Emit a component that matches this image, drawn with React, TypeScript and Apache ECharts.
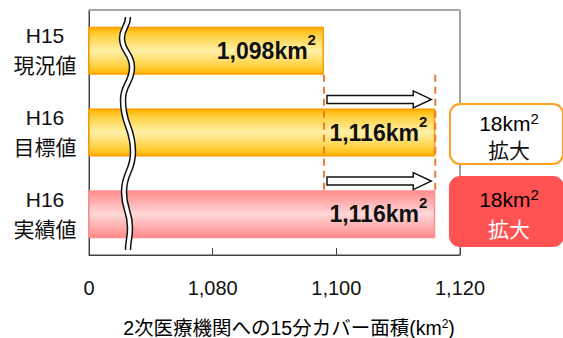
import React, { useEffect, useRef } from "react";
import * as echarts from "echarts";

const years = ["H15", "H16", "H16"];
const kinds = ["現況値", "目標値", "実績値"];
const areaValues = [1098, 1116, 1116];
const xTicks = [1060, 1080, 1100, 1120];
const xTickLabels = ["0", "1,080", "1,100", "1,120"];
const guideValues = [1098, 1116];
const arrowFrom = [1098, 1098];
const arrowTo = [1116, 1116];
const arrowRows = [1, 2];
const boxTexts = ["18km", "18km"];
const boxSub = ["拡大", "拡大"];
const axisTitle = "2次医療機関への15分カバー面積";

const FONT = "'Liberation Sans', 'Noto Sans CJK JP', sans-serif";

const WAVE_D =
  "M128 17 C128 27 122 28 122 38 C122 52 132 53 132 67 C132 83 123 84 123 100 " +
  "C123 126 133 126 133 152 C133 172 124 172 124 192 C124 210 130 210 130 228 C130 239 128 240 128 250";

let registered = false;
function ensureShapes() {
  if (registered) return;
  echarts.graphic.registerShape("wave", echarts.graphic.extendPath(WAVE_D, {}) as any);
  registered = true;
}

const orangeGrad = new echarts.graphic.LinearGradient(0, 0, 0, 1, [
  { offset: 0, color: "#ffb000" },
  { offset: 0.15, color: "#ffcf3a" },
  { offset: 0.5, color: "#fff0a8" },
  { offset: 0.85, color: "#ffcf3a" },
  { offset: 1, color: "#ffb000" },
]);
const redGrad = new echarts.graphic.LinearGradient(0, 0, 0, 1, [
  { offset: 0, color: "#ff8a8a" },
  { offset: 0.5, color: "#ffd8d8" },
  { offset: 1, color: "#ff8a8a" },
]);

export default function App() {
  const ref = useRef<HTMLDivElement>(null);
  useEffect(() => {
    ensureShapes();
    const chart = echarts.init(ref.current!, null, { renderer: "svg" });
    const cats = years.map((y, i) => `${y}\n${kinds[i]}`);
    const barColors = [orangeGrad, orangeGrad, redGrad];
    const barBorders = ["#ff9a00", "#ff9a00", "#ff9090"];
    const fmt = (v: number) => v.toLocaleString("en-US");

    const supRich = (color: string, size: number, supSize: number, lh: number, bold: boolean, extra: any = {}) => ({
      a: { fontSize: size, lineHeight: lh, fontWeight: bold ? "bold" : "normal", color, fontFamily: FONT, ...extra },
      b: { fontSize: supSize, fontWeight: bold ? "bold" : "normal", color, fontFamily: FONT, verticalAlign: "top", ...extra },
    });

    const boxes: any[] = [];
    const boxGeo = [
      { y: 104, h: 60, fill: "#ffffff", stroke: "#ffa020", color: "#111", shadow: false, l1: 123, l2: 150 },
      { y: 177, h: 69, fill: "#ff5252", stroke: "#ff5252", color: "#ffffff", shadow: true, l1: 199, l2: 229 },
    ];
    boxGeo.forEach((g, i) => {
      boxes.push({
        type: "rect",
        z: 200,
        shape: { x: 450, y: g.y, width: 113, height: g.h, r: 10 },
        style: { fill: g.fill, stroke: g.stroke, lineWidth: 2 },
      });
      const shadowStyle = g.shadow
        ? { textShadowColor: "rgba(0,0,0,0.55)", textShadowOffsetX: 1, textShadowOffsetY: 1, textShadowBlur: 0 }
        : {};
      boxes.push({
        type: "text",
        z: 201,
        x: 509,
        y: g.l1,
        style: {
          text: `{a|${boxTexts[i]}}{b|2}`,
          align: "center",
          verticalAlign: "middle",
          rich: supRich(g.color, 21, 15, 24, false, shadowStyle),
        },
      });
      boxes.push({
        type: "text",
        z: 201,
        x: 509,
        y: g.l2,
        style: {
          text: boxSub[i],
          align: "center",
          verticalAlign: "middle",
          fill: g.color,
          fontSize: 21,
          fontFamily: FONT,
          ...shadowStyle,
        },
      });
    });

    chart.setOption({
      animation: false,
      grid: {
        left: 89,
        right: 103,
        top: 10,
        bottom: 83,
        show: true,
        borderColor: "#444",
        borderWidth: 1,
        backgroundColor: "transparent",
      },
      xAxis: {
        type: "value",
        min: xTicks[0],
        max: xTicks[xTicks.length - 1],
        interval: 20,
        splitLine: { show: false },
        axisLine: { show: true, lineStyle: { color: "#444" } },
        axisTick: { show: true, inside: true, length: 7, lineStyle: { color: "#444" } },
        axisLabel: {
          margin: 23,
          fontSize: 20,
          color: "#111",
          fontFamily: FONT,
          formatter: (v: number) => {
            const i = xTicks.indexOf(v);
            return i >= 0 ? xTickLabels[i] : "";
          },
        },
      },
      yAxis: {
        type: "category",
        inverse: true,
        data: cats,
        axisLine: { show: true, lineStyle: { color: "#444" } },
        axisTick: { show: false },
        axisLabel: {
          margin: 44,
          align: "center",
          fontSize: 21,
          lineHeight: 30,
          color: "#111",
          fontFamily: FONT,
        },
      },
      series: [
        {
          type: "bar",
          barWidth: 48,
          z: 2,
          data: areaValues.map((v, i) => ({
            value: v,
            itemStyle: { color: barColors[i], borderColor: barBorders[i], borderWidth: 1.5 },
          })),
          label: {
            show: true,
            position: "insideRight",
            distance: 8,
            formatter: (p: any) => `{a|${fmt(p.value)}km}{b|2}`,
            rich: supRich("#111", 23, 15, 38, true),
          },
        },
        {
          type: "custom",
          z: 5,
          data: guideValues.map((v) => [v]),
          encode: { x: 0 },
          renderItem: (params: any, api: any) => {
            const v = api.value(0);
            const top = api.coord([v, 0]);
            const bot = api.coord([v, 2]);
            return {
              type: "line",
              shape: { x1: top[0], y1: top[1] + 24, x2: bot[0], y2: bot[1] - 24 },
              style: { stroke: "#f27a2a", lineWidth: 2, lineDash: [7, 5] },
            };
          },
        },
        {
          type: "custom",
          z: 6,
          data: arrowFrom.map((f, i) => [f, arrowTo[i], arrowRows[i]]),
          encode: { x: [0, 1], y: 2 },
          renderItem: (params: any, api: any) => {
            const s = api.coord([api.value(0), api.value(2)]);
            const e = api.coord([api.value(1), api.value(2)]);
            const band = api.size([0, 1])[1];
            const y = s[1] - band * 0.405;
            const x0 = s[0] + 3;
            const x1 = e[0] - 4;
            const hx = x1 - 18;
            return {
              type: "polygon",
              shape: {
                points: [
                  [x0, y - 4],
                  [hx, y - 4],
                  [hx, y - 8.5],
                  [x1, y],
                  [hx, y + 8.5],
                  [hx, y + 4],
                  [x0, y + 4],
                ],
              },
              style: { fill: "#ffffff", stroke: "#111", lineWidth: 1.5 },
            };
          },
        },
      ],
      graphic: [
        {
          type: "line",
          z: 150,
          shape: { x1: 89, y1: 10.5, x2: 460, y2: 10.5 },
          style: { stroke: "#aaaaaa", lineWidth: 1 },
        },
        {
          type: "wave",
          z: 150,
          x: 0,
          y: 0,
          style: { fill: "none", stroke: "#111", lineWidth: 6.5 },
        },
        {
          type: "wave",
          z: 151,
          x: 0,
          y: 0,
          style: { fill: "none", stroke: "#ffffff", lineWidth: 3.5 },
        },
        ...boxes,
        {
          type: "text",
          z: 150,
          x: 289,
          y: 328,
          style: {
            text: `{a|${axisTitle}(km}{b|2}{a|)}`,
            align: "center",
            verticalAlign: "middle",
            rich: {
              a: { fontSize: 19.5, color: "#111", fontFamily: FONT },
              b: { fontSize: 12, color: "#111", fontFamily: FONT, verticalAlign: "top" },
            },
          },
        },
      ],
    });
    return () => chart.dispose();
  }, []);
  return (
    <div
      ref={ref}
      style={{ position: "fixed", left: 0, top: 0, width: 563, height: 338, background: "#fff" }}
    />
  );
}
